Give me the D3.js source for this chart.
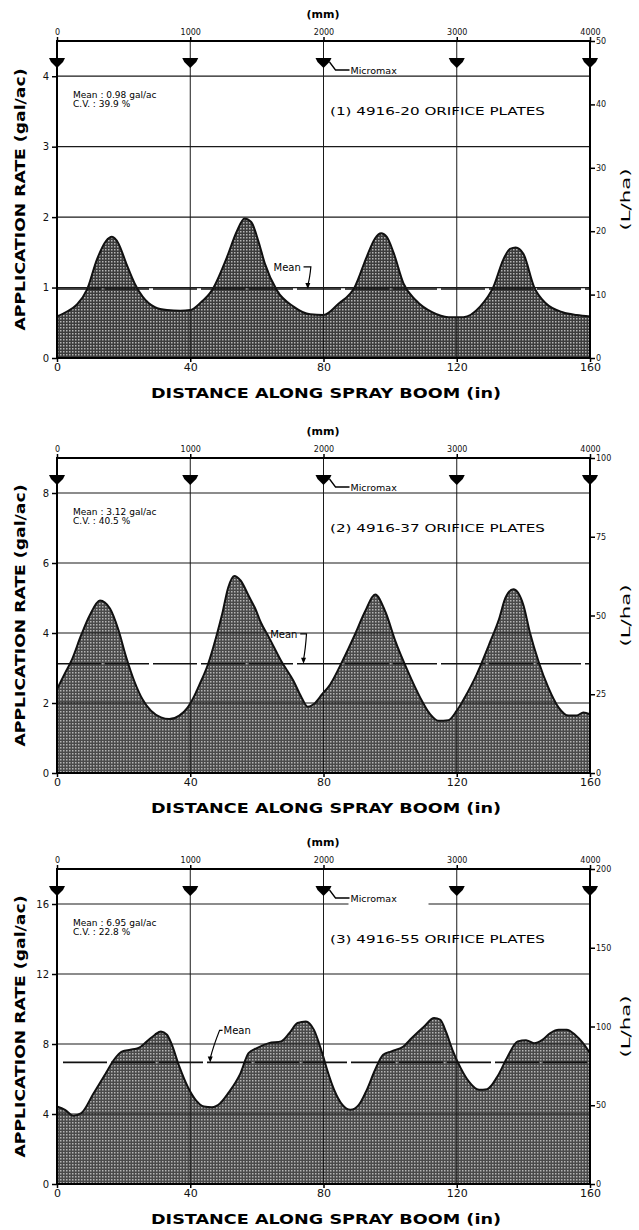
<!DOCTYPE html>
<html><head><meta charset="utf-8">
<script src="https://cdn.jsdelivr.net/npm/d3@7"></script>
<style>body{margin:0;background:#fff}svg{display:block}</style>
</head><body>
<svg id="c" width="639" height="1230"></svg>
<script>
// ---------------- DATA ----------------
const xTicksIn = [0, 40, 80, 120, 160];
const xTicksMm = [0, 1000, 2000, 3000, 4000];
const nozzleIn = [0, 40, 80, 120, 160];
const plateLabels = ["(1) 4916-20 ORIFICE PLATES", "(2) 4916-37 ORIFICE PLATES", "(3) 4916-55 ORIFICE PLATES"];
const meanValues = [0.98, 3.12, 6.95];
const meanTexts = ["Mean : 0.98 gal/ac", "Mean : 3.12 gal/ac", "Mean : 6.95 gal/ac"];
const cvTexts = ["C.V. : 39.9 %", "C.V. : 40.5 %", "C.V. : 22.8 %"];
const leftTicks1 = [0, 1, 2, 3, 4];
const leftTicks2 = [0, 2, 4, 6, 8];
const leftTicks3 = [0, 4, 8, 12, 16];
const rightTicks1 = [0, 10, 20, 30, 40, 50];
const rightTicks2 = [0, 25, 50, 75, 100];
const rightTicks3 = [0, 50, 100, 150, 200];

const p1X = [0,3,6,9,12,14.7,16.5,18.4,20.8,23.3,25.7,29.4,33,37,40,43,46.5,51,54,56.3,58.3,60.5,62.4,66,71,76,80,84.5,89.4,93,95.5,97.3,99,101,104,107.7,112.6,117.5,122,127,131,134,136,137.7,140,143.2,146.9,151.8,156,160];
const p1Y = [0.59,0.66,0.76,0.97,1.40,1.66,1.72,1.63,1.34,1.06,0.87,0.72,0.68,0.67,0.68,0.78,0.96,1.43,1.80,1.98,1.93,1.65,1.34,0.96,0.73,0.62,0.61,0.77,1.01,1.44,1.70,1.77,1.72,1.50,1.06,0.82,0.65,0.58,0.58,0.73,1.01,1.40,1.55,1.57,1.48,1.01,0.77,0.65,0.61,0.59];

const p2X = [0,2.4,4.3,7.3,9.8,12.9,15.9,18.4,20.8,23.3,25.7,28.2,31.2,33.7,36.7,39.2,41,42.8,45.3,47.7,49.6,51.4,53.2,55.1,57.6,59.5,61.2,63.7,67.3,71,73.4,75.3,77.1,79.6,82,85.7,89.4,92.4,95.5,98.6,101.6,105.3,109,112,114.5,117.5,120,122.4,126,129.7,132.8,134.6,137,140,142,144.5,147.5,150.6,153.6,156,158,160];
const p2Y = [2.39,2.85,3.2,3.95,4.5,4.93,4.7,4.1,3.3,2.6,2.1,1.78,1.59,1.54,1.64,1.87,2.16,2.53,3.1,3.86,4.55,5.3,5.63,5.5,5.05,4.7,4.3,3.86,3.2,2.63,2.16,1.89,1.97,2.25,2.53,3.2,3.95,4.6,5.10,4.6,3.76,2.91,2.16,1.68,1.49,1.51,1.78,2.16,2.82,3.67,4.43,5.0,5.25,4.8,4.0,3.2,2.44,1.87,1.64,1.64,1.73,1.68];

const p3X = [0,2.4,4.9,7.3,11,14.7,17.1,19.6,22,24.5,27,29.4,31.2,33,34.3,36.7,39.2,41.6,44.1,46.5,49,51.4,55.1,57.5,60,63.6,67.3,69.8,72.2,74.7,77.1,79.6,81.4,83.2,85.7,88.1,90.6,93,95.5,97.9,100.4,104,106.5,110.2,113.2,115,116.9,118.7,121.2,123.6,126.7,129.1,132.2,135.3,138.3,140.8,143.2,145.7,148.1,150.6,153,155.5,157.9,160];
const p3Y = [4.43,4.24,3.9,4.05,5.19,6.34,7.1,7.58,7.67,7.77,8.15,8.53,8.72,8.53,8.05,6.72,5.57,4.81,4.43,4.39,4.62,5.19,6.34,7.48,7.77,8.05,8.15,8.63,9.2,9.29,8.82,7.48,6.34,5.38,4.52,4.24,4.52,5.38,6.53,7.39,7.58,7.86,8.34,9.0,9.48,9.39,8.63,7.67,6.62,5.86,5.38,5.42,6.14,7.29,8.15,8.21,8.05,8.24,8.63,8.82,8.82,8.53,8.05,7.48];

// ---------------- LAYOUT ----------------
const X0 = 57, X1 = 590;
const layout = [
  {top: 41, bottom: 358, leftMax: 4.5, rightMax: 50, leftTicks: leftTicks1, rightTicks: rightTicks1, xs: p1X, ys: p1Y, meanLblIn: 65, meanTipIn: 75.3, meanLblUp: 22, leaderRight: true, gap: false, base: "#3c3c3c"},
  {top: 458, bottom: 773, leftMax: 9, rightMax: 100, leftTicks: leftTicks2, rightTicks: rightTicks2, xs: p2X, ys: p2Y, meanLblIn: 64, meanTipIn: 74, meanLblUp: 30, leaderRight: true, gap: false, base: "#4a4a4a"},
  {top: 869, bottom: 1184, leftMax: 18, rightMax: 200, leftTicks: leftTicks3, rightTicks: rightTicks3, xs: p3X, ys: p3Y, meanLblIn: 50, meanTipIn: 46, meanLblUp: 32, leaderRight: false, gap: true, base: "#4a4a4a"}
];

const svg = d3.select("#c");
const defs = svg.append("defs");
layout.forEach((L, i) => {
  const pat = defs.append("pattern").attr("id", "stip" + i).attr("width", 3).attr("height", 3).attr("patternUnits", "userSpaceOnUse");
  pat.append("rect").attr("width", 3).attr("height", 3).attr("fill", L.base);
  pat.append("rect").attr("width", 1.5).attr("height", 1.5).attr("fill", "#b4b4b4");
});

const FONT = "'DejaVu Sans', sans-serif";
const x = d3.scaleLinear().domain([0, 160]).range([X0, X1]);
const xmm = d3.scaleLinear().domain([0, 4000]).range([X0, X1]);

layout.forEach((L, i) => {
  const g = svg.append("g");
  const y = d3.scaleLinear().domain([0, L.leftMax]).range([L.bottom, L.top]);
  const yr = d3.scaleLinear().domain([0, L.rightMax]).range([L.bottom, L.top]);
  const pts = L.xs.map((d, j) => [d, L.ys[j]]);

  const area = d3.area().x(d => x(d[0])).y0(y(0)).y1(d => y(d[1])).curve(d3.curveMonotoneX);
  g.append("path").datum(pts).attr("d", area).attr("fill", `url(#stip${i})`);
  const line = d3.line().x(d => x(d[0])).y(d => y(d[1])).curve(d3.curveMonotoneX);
  g.append("path").datum(pts).attr("d", line).attr("fill", "none").attr("stroke", "#111").attr("stroke-width", 2);

  g.selectAll(".hg").data(L.leftTicks.filter(d => d > 0)).enter().append("line")
    .attr("x1", X0).attr("x2", X1).attr("y1", d => y(d)).attr("y2", d => y(d))
    .attr("stroke", "#1a1a1a").attr("stroke-width", 1.2);
  g.selectAll(".vg").data(xTicksIn.filter(d => d > 0 && d < 160)).enter().append("line")
    .attr("x1", d => x(d)).attr("x2", d => x(d)).attr("y1", L.top).attr("y2", L.bottom)
    .attr("stroke", "#1a1a1a").attr("stroke-width", 1);

  g.append("line").attr("x1", i === 2 ? X0 + 6 : X0).attr("x2", X1)
    .attr("y1", y(meanValues[i])).attr("y2", y(meanValues[i]))
    .attr("stroke", "#111").attr("stroke-width", 1.6).attr("stroke-dasharray", "44,4");

  g.append("rect").attr("x", X0).attr("y", L.top).attr("width", X1 - X0).attr("height", L.bottom - L.top)
    .attr("fill", "none").attr("stroke", "#000").attr("stroke-width", 2);

  const xa = d3.axisBottom(x).tickValues(xTicksIn).tickSize(4).tickFormat(d3.format("d"));
  const gx = g.append("g").attr("transform", `translate(0,${L.bottom})`).call(xa);
  gx.select(".domain").remove();
  gx.selectAll("line").attr("stroke", "#000").attr("stroke-width", 1.5);
  gx.selectAll("text").attr("font-family", FONT).attr("font-size", 11).attr("fill", "#111").attr("dy", "0.55em");

  const ta = d3.axisTop(xmm).tickValues(xTicksMm).tickSize(4).tickFormat(d3.format("d"));
  const gt = g.append("g").attr("transform", `translate(0,${L.top})`).call(ta);
  gt.select(".domain").remove();
  gt.selectAll("line").attr("stroke", "#000").attr("stroke-width", 1.5);
  gt.selectAll("text").attr("font-family", FONT).attr("font-size", 8).attr("fill", "#111").attr("dy", "0.1em");
  g.append("text").attr("x", 323).attr("y", L.top - 23).attr("text-anchor", "middle")
    .attr("font-family", FONT).attr("font-weight", "bold").attr("font-size", 11).text("(mm)");

  const la = d3.axisLeft(y).tickValues(L.leftTicks).tickSize(5).tickFormat(d3.format("d"));
  const gl = g.append("g").attr("transform", `translate(${X0},0)`).call(la);
  gl.select(".domain").remove();
  gl.selectAll("line").attr("stroke", "#000").attr("stroke-width", 1.5);
  gl.selectAll("text").attr("font-family", FONT).attr("font-size", 10).attr("fill", "#111");

  const ra = d3.axisRight(yr).tickValues(L.rightTicks).tickSize(5).tickFormat(d3.format("d"));
  const gr = g.append("g").attr("transform", `translate(${X1},0)`).call(ra);
  gr.select(".domain").remove();
  gr.selectAll("line").attr("stroke", "#000").attr("stroke-width", 1.5);
  gr.selectAll("text").attr("font-family", FONT).attr("font-size", 8).attr("fill", "#111").attr("x", 6);

  const ny = L.top + 21;
  nozzleIn.forEach(n => {
    g.append("path").attr("transform", `translate(${x(n)},${ny})`)
      .attr("d", "M-8,-4 L8,-4 L6,0 L2,4 L0,6 L-2,4 L-6,0 Z").attr("fill", "#000");
  });
  const mx = x(80);
  if (L.gap) {
    g.append("rect").attr("x", mx + 25).attr("y", ny + 3).attr("width", 80).attr("height", 14).attr("fill", "#fff");
  }
  g.append("path").attr("d", `M${mx + 6},${ny} L${mx + 12},${ny + 8} L${mx + 26},${ny + 8}`)
    .attr("fill", "none").attr("stroke", "#000").attr("stroke-width", 1.3);
  g.append("text").attr("x", mx + 27).attr("y", ny + 12).attr("font-family", FONT).attr("font-size", 9.5)
    .text("Micromax");

  g.append("text").attr("x", 73).attr("y", L.top + 57).attr("font-family", FONT).attr("font-size", 9).text(meanTexts[i]);
  g.append("text").attr("x", 73).attr("y", L.top + 66).attr("font-family", FONT).attr("font-size", 9).text(cvTexts[i]);
  g.append("text").attr("x", 330).attr("y", L.top + 74).attr("font-family", FONT).attr("font-size", 11)
    .attr("textLength", 215).attr("lengthAdjust", "spacingAndGlyphs").text(plateLabels[i]);

  const my = y(meanValues[i]);
  const ty = my - L.meanLblUp;
  const tx = x(L.meanLblIn);
  const tip = x(L.meanTipIn);
  g.append("text").attr("x", tx).attr("y", ty + 4).attr("font-family", FONT).attr("font-size", 10).text("Mean");
  if (L.leaderRight) {
    g.append("path").attr("d", `M${tx + 30},${ty} L${tip + 3},${ty} Q${tip + 2},${(ty + my) / 2} ${tip},${my - 4}`)
      .attr("fill", "none").attr("stroke", "#000").attr("stroke-width", 1.2);
  } else {
    g.append("path").attr("d", `M${tx - 1},${ty} L${tx - 4},${ty} Q${tip + 3},${(ty + my) / 2} ${tip},${my - 4}`)
      .attr("fill", "none").attr("stroke", "#000").attr("stroke-width", 1.2);
  }
  g.append("path").attr("d", `M${tip - 2.5},${my - 6} L${tip + 2.5},${my - 6} L${tip},${my} Z`).attr("fill", "#000");

  const mid = (L.top + L.bottom) / 2;
  g.append("text").attr("transform", `translate(25,${mid}) rotate(-90)`).attr("text-anchor", "middle")
    .attr("font-family", FONT).attr("font-weight", "bold").attr("font-size", 14)
    .attr("textLength", 262).attr("lengthAdjust", "spacingAndGlyphs").text("APPLICATION RATE (gal/ac)");
  g.append("text").attr("transform", `translate(630,${mid}) rotate(-90)`).attr("text-anchor", "middle")
    .attr("font-family", FONT).attr("font-size", 12)
    .attr("textLength", 62).attr("lengthAdjust", "spacingAndGlyphs").text("(L/ha)");
  g.append("text").attr("x", 326).attr("y", L.bottom + 40).attr("text-anchor", "middle")
    .attr("font-family", FONT).attr("font-weight", "bold").attr("font-size", 14)
    .attr("textLength", 350).attr("lengthAdjust", "spacingAndGlyphs").text("DISTANCE ALONG SPRAY BOOM (in)");
});
</script>
</body></html>
